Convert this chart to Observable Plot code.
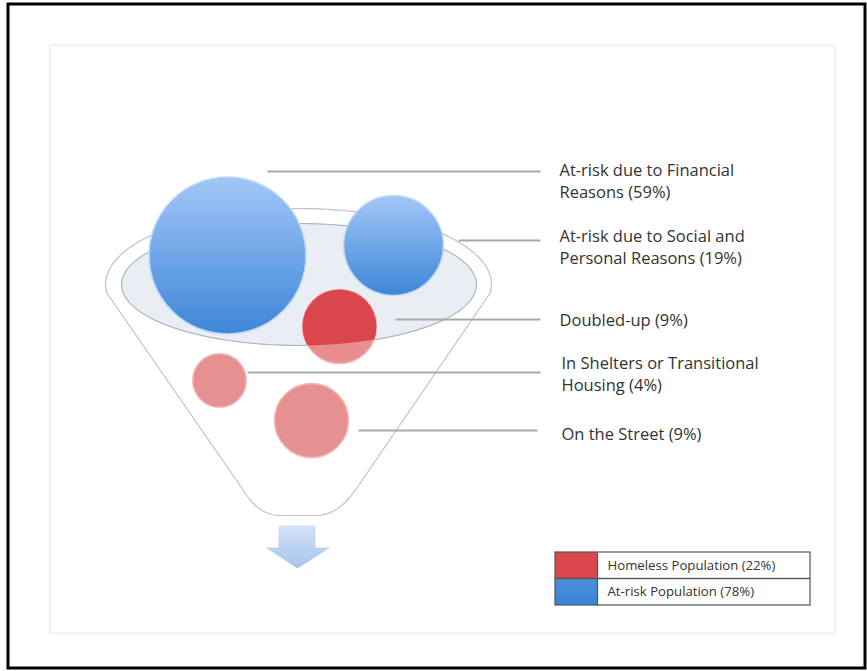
<!DOCTYPE html>
<html>
<head>
<meta charset="utf-8">
<script src="https://cdn.jsdelivr.net/npm/d3@7"></script>
<script src="https://cdn.jsdelivr.net/npm/@observablehq/plot@0.6"></script>
<style>
  html, body { margin: 0; padding: 0; background: #fff; }
  #chart svg { display: block; }
</style>
</head>
<body>
<div id="chart"></div>
<script>
// ---------- data ----------
const categories = [
  "At-risk due to Financial Reasons",
  "At-risk due to Social and Personal Reasons",
  "Doubled-up",
  "In Shelters or Transitional Housing",
  "On the Street"
];
const shares = [59, 19, 9, 4, 9];          // percent
const groups = ["At-risk", "At-risk", "Homeless", "Homeless", "Homeless"];
const labelLines = [
  "At-risk due to Financial\nReasons (59%)",
  "At-risk due to Social and\nPersonal Reasons (19%)",
  "Doubled-up (9%)",
  "In Shelters or Transitional\nHousing (4%)",
  "On the Street (9%)"
];
const legendLabels = ["Homeless Population (22%)", "At-risk Population (78%)"];

// ---------- layout (diagram coordinates) ----------
const bubbleX = [227, 393, 339, 219, 311];
const bubbleY = [255, 245, 326, 380, 420];
const leaderY = [171, 240, 319, 372, 430];
const leaderStart = [267, 458, 395, 247, 358];
const leaderEnd = [540, 540, 540, 540, 537];
const labelX = [559, 559, 559, 561, 561];
const labelY = [179, 245, 318, 372, 432];

const W = 867, H = 671;

// funnel geometry
const rimC = {x: 298, y: 284, rx: 193, ry: 76};
const bowl = {x: 298.5, y: 284, rx: 177.5, ry: 61};

function funnelOutline() {
  const pts = [];
  for (let i = 0; i <= 90; i++) {
    const a = Math.PI + (i / 90) * Math.PI; // left -> top -> right
    pts.push({x: rimC.x + rimC.rx * Math.cos(a), y: rimC.y + rimC.ry * Math.sin(a)});
  }
  const quad = (p0, p1, p2, n) => {
    for (let i = 1; i <= n; i++) {
      const t = i / n, u = 1 - t;
      pts.push({x: u*u*p0.x + 2*u*t*p1.x + t*t*p2.x, y: u*u*p0.y + 2*u*t*p1.y + t*t*p2.y});
    }
  };
  pts.push({x: 490, y: 292});
  pts.push({x: 356, y: 488});
  quad({x: 356, y: 488}, {x: 338, y: 515}, {x: 315, y: 515}, 10);
  pts.push({x: 280, y: 515});
  quad({x: 280, y: 515}, {x: 258, y: 515}, {x: 243, y: 490}, 10);
  pts.push({x: 106, y: 292});
  pts.push(pts[0]);
  return pts;
}
function ellipsePts(e) {
  return d3.range(0, 121).map(i => {
    const a = (i / 120) * 2 * Math.PI;
    return {x: e.x + e.rx * Math.cos(a), y: e.y + e.ry * Math.sin(a)};
  });
}
const arrowPts = [
  {x: 278, y: 525}, {x: 315, y: 525}, {x: 315, y: 547}, {x: 330, y: 547},
  {x: 297, y: 568}, {x: 265, y: 547}, {x: 278, y: 547}, {x: 278, y: 525}
];

const items = categories.map((c, i) => ({
  category: c, share: shares[i], group: groups[i], label: labelLines[i],
  bx: bubbleX[i], by: bubbleY[i], ly: leaderY[i], l1: leaderStart[i], l2: leaderEnd[i],
  tx: labelX[i], ty: labelY[i]
}));
const blue = items.filter(d => d.group === "At-risk");
const doubled = items.filter(d => d.category === "Doubled-up");
const lightRed = items.filter(d => d.group === "Homeless" && d.category !== "Doubled-up");

const legendRows = legendLabels.map((l, i) => ({
  label: l, y1: 552 + i * 26.5, y2: 552 + (i + 1) * 26.5,
  color: i === 0 ? "#d9474b" : "url(#gLegendBlue)"
}));

const font = "'Open Sans', Lato, sans-serif";

const plot = Plot.plot({
  width: W, height: H,
  margin: 0,
  x: {domain: [0, W], range: [0, W], axis: null},
  y: {domain: [0, H], range: [0, H], axis: null},
  r: {type: "pow", exponent: 0.4, domain: [0, 59], range: [0, 78.5]},
  style: {fontFamily: font, background: "#fff"},
  marks: [
    // outer black border and faint inner panel
    Plot.rect([0], {x1: 8, x2: 865, y1: 4, y2: 668, fill: "none", stroke: "#000", strokeWidth: 3}),
    Plot.rect([0], {x1: 50, x2: 835, y1: 45, y2: 633, fill: "#fff", stroke: "#f1f1f1", strokeWidth: 1.5}),
    // funnel
    Plot.line(funnelOutline(), {x: "x", y: "y", fill: "#fff", stroke: "#bcc2cc", strokeWidth: 1.2, curve: "linear"}),
    Plot.line(ellipsePts(bowl), {x: "x", y: "y", fill: "#e9edf4", stroke: "#aeb6c2", strokeWidth: 1.2}),
    // arrow
    Plot.line(arrowPts, {x: "x", y: "y", fill: "url(#gArrow)", stroke: "none"}),
    // leader lines
    Plot.link(items, {x1: "l1", x2: "l2", y1: "ly", y2: "ly", stroke: "#a9a9a9", strokeWidth: 2}),
    // bubbles
    Plot.dot(blue, {x: "bx", y: "by", r: "share", fill: "url(#gBlue)", stroke: "#c4d9f5", strokeWidth: 1.5}),
    Plot.dot(lightRed, {x: "bx", y: "by", r: "share", fill: "#e79092", stroke: "#f2b8b8", strokeWidth: 1.5}),
    Plot.dot(doubled, {x: "bx", y: "by", r: "share", fill: "#e88e90", stroke: "#f2b8b8", strokeWidth: 1.5}),
    Plot.dot(doubled, {x: "bx", y: "by", r: "share", fill: "#d9464b", stroke: "none", ariaDescription: "doubled-dark"}),
    // labels
    Plot.text(items, {x: "tx", y: "ty", text: "label", textAnchor: "start", lineAnchor: "middle",
      lineHeight: 1.34, fontSize: 16.5, fill: "#333"}),
    // legend
    Plot.rect(legendRows, {x1: 555, x2: 597, y1: "y1", y2: "y2", fill: "color"}),
    Plot.rect(legendRows, {x1: 555, x2: 810, y1: "y1", y2: "y2", fill: "none", stroke: "#555", strokeWidth: 1.2}),
    Plot.link(legendRows, {x1: 597, x2: 597, y1: "y1", y2: "y2", stroke: "#555", strokeWidth: 1.2}),
    Plot.text(legendRows, {x: 607, y: d => (d.y1 + d.y2) / 2, text: "label", textAnchor: "start",
      fontSize: 13.2, fill: "#333"})
  ]
});

// gradients and clip
const svg = d3.select(plot);
const defs = svg.insert("defs", ":first-child");
const gb = defs.append("linearGradient").attr("id", "gBlue").attr("x1", 0).attr("y1", 0).attr("x2", 0).attr("y2", 1);
gb.append("stop").attr("offset", "0%").attr("stop-color", "#a2c7f7");
gb.append("stop").attr("offset", "100%").attr("stop-color", "#3e86d8");
const gl = defs.append("linearGradient").attr("id", "gLegendBlue").attr("x1", 0).attr("y1", 0).attr("x2", 0).attr("y2", 1);
gl.append("stop").attr("offset", "0%").attr("stop-color", "#4a8fdc");
gl.append("stop").attr("offset", "100%").attr("stop-color", "#3c84d6");
const ga = defs.append("linearGradient").attr("id", "gArrow").attr("x1", 0).attr("y1", 0).attr("x2", 0).attr("y2", 1);
ga.append("stop").attr("offset", "0%").attr("stop-color", "#d3e2f6");
ga.append("stop").attr("offset", "100%").attr("stop-color", "#a8c4ee");
const sx = plot.scale("x"), sy = plot.scale("y");
const cp = defs.append("clipPath").attr("id", "bowlClip");
cp.append("ellipse")
  .attr("cx", sx.apply(bowl.x)).attr("cy", sy.apply(bowl.y))
  .attr("rx", sx.apply(bowl.x + bowl.rx) - sx.apply(bowl.x))
  .attr("ry", sy.apply(bowl.y + bowl.ry) - sy.apply(bowl.y));
svg.select('g[aria-description="doubled-dark"]').attr("clip-path", "url(#bowlClip)");

document.getElementById("chart").appendChild(plot);
</script>
</body>
</html>
